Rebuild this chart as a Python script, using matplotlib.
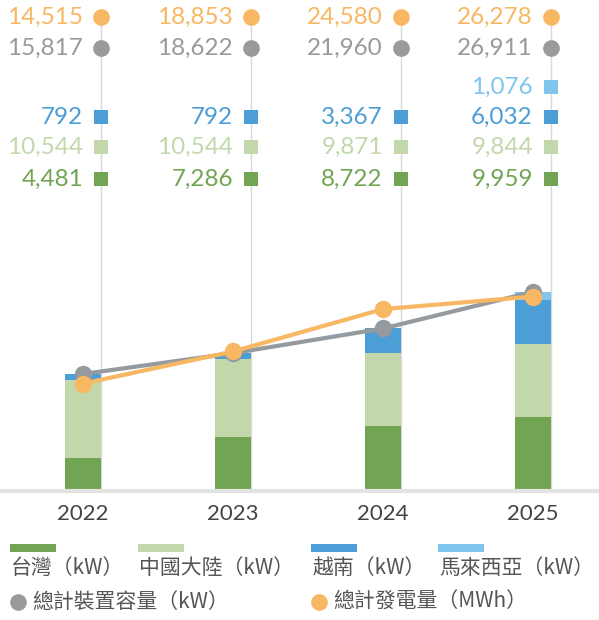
import numpy as np
import matplotlib.pyplot as plt
from matplotlib.transforms import blended_transform_factory
from matplotlib.patches import Rectangle

# 資料
years = ["2022", "2023", "2024", "2025"]
taiwan = [4481, 7286, 8722, 9959]
china = [10544, 10544, 9871, 9844]
vietnam = [792, 792, 3367, 6032]
malaysia = [0, 0, 0, 1076]
capacity = [15817, 18622, 21960, 26911]      # 總計裝置容量 kW
generation = [14515, 18853, 24580, 26278]    # 總計發電量 MWh

legend_names = ["台灣（kW）", "中國大陸（kW）", "越南（kW）", "馬來西亞（kW）"]

c_tw = "#72a553"
c_cn = "#c2d8ab"
c_vn = "#4c9ed6"
c_my = "#80c5ee"
c_cap = "#959a9f"
c_cap_txt = "#9a9a9a"
c_gen = "#f8b762"

W, H = 599, 620
fig = plt.figure(figsize=(W / 100, H / 100), dpi=100)
base_px = 491
ax = fig.add_axes([0, 1 - base_px / H, 1, base_px / H])

x = np.arange(len(years))
bw = 0.24
scale = 0.0074  # px per kW
ax.set_xlim(-83 / 150, (W - 83) / 150)
ax.set_ylim(0, base_px / scale)

# 垂直格線 (在每根柱子右緣)
trans = blended_transform_factory(ax.transData, fig.transFigure)
for xi in x:
    ax.plot([xi + bw / 2, xi + bw / 2], [1 - 17 / H, 1 - base_px / H], transform=trans,
            color="#d9d9d9", lw=1, zorder=0, clip_on=False)

b = np.zeros(4)
for vals, col in [(taiwan, c_tw), (china, c_cn), (vietnam, c_vn), (malaysia, c_my)]:
    ax.bar(x, vals, bw, bottom=b, color=col, zorder=2)
    b += np.array(vals)

ax.plot(x, capacity, color=c_cap, lw=3, marker="o", ms=11.5, zorder=3)
ax.plot(x, generation, color=c_gen, lw=3, marker="o", ms=11.5, zorder=4)

# 上方數值標籤
num_font = dict(family="Lato", fontsize=17.5)
rows = [
    (generation, 17, c_gen, c_gen, "o"),
    (capacity, 48, c_cap_txt, c_cap_txt, "o"),
    (malaysia, 87, c_my, c_my, "s"),
    (vietnam, 117, c_vn, c_vn, "s"),
    (china, 147, c_cn, c_cn, "s"),
    (taiwan, 179, c_tw, c_tw, "s"),
]
for vals, ypx, mcol, tcol, mk in rows:
    yf = 1 - ypx / H
    for xi, v in zip(x, vals):
        if v == 0:
            continue
        gx = xi + bw / 2
        ax.plot([gx], [yf], transform=trans, marker=mk, ms=12 if mk == "o" else 10.5,
                color=mcol, mew=0, clip_on=False, zorder=5)
        ax.text(gx - 18 / 150, yf, f"{v:,}", transform=trans, ha="right", va="center",
                color=tcol, **num_font)

# 軸
for s in ["top", "right", "left"]:
    ax.spines[s].set_visible(False)
ax.spines["bottom"].set_color("#e3e3e3")
ax.spines["bottom"].set_linewidth(3)
ax.set_yticks([])
ax.set_xticks(x)
ax.set_xticklabels(years, family="Lato", fontsize=16, color="#444444")
ax.tick_params(axis="x", length=0, pad=9)

# 圖例
cjk = ["Noto Sans CJK TC", "DejaVu Sans"]
leg_font = dict(family=cjk, fontsize=15, color="#555555", va="center", ha="left")
for name, col, x0 in zip(legend_names, [c_tw, c_cn, c_vn, c_my], [10, 138, 311, 438]):
    fig.add_artist(Rectangle((x0 / W, 1 - 552 / H), 46 / W, 8 / H,
                             transform=fig.transFigure, color=col, lw=0))
    fig.text((x0 + 1) / W, 1 - 568 / H, name, **leg_font)

for name, col, x0 in [("總計裝置容量（kW）", c_cap_txt, 18), ("總計發電量（MWh）", c_gen, 319)]:
    ax.plot([x0 / W], [1 - 602 / H], transform=fig.transFigure, marker="o", ms=12,
            color=col, mew=0, clip_on=False)
    fig.text((x0 + 14) / W, 1 - 602 / H, name, **leg_font)

fig.savefig("out.png", dpi=100)
